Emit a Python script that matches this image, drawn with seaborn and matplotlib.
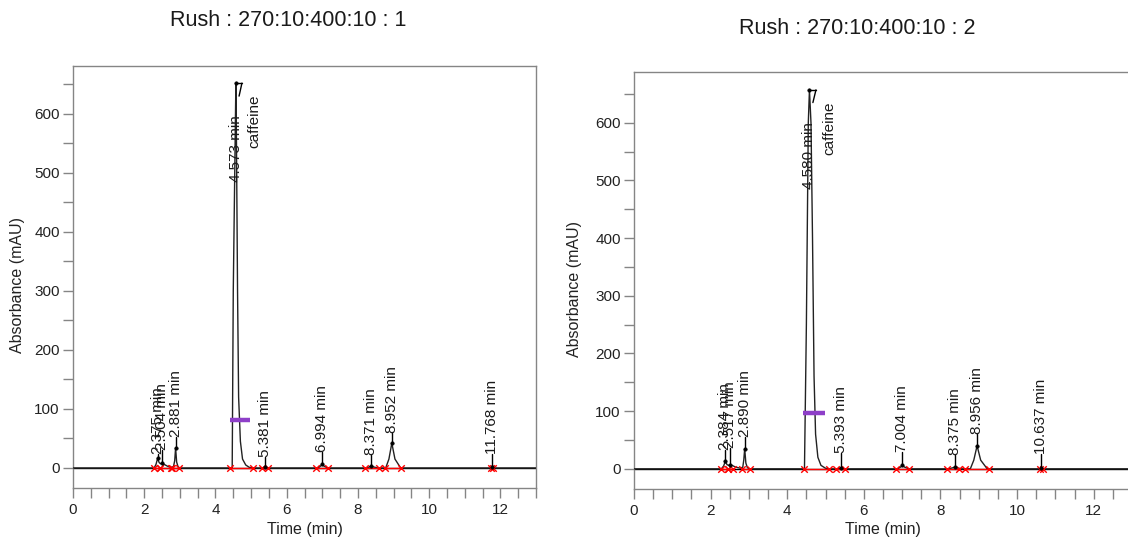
import numpy as np
import pandas as pd
import matplotlib
matplotlib.use("Agg")
import matplotlib.pyplot as plt
import seaborn as sns
from matplotlib.ticker import MultipleLocator, FixedLocator

# ---------------- data ----------------
titles = ["Rush : 270:10:400:10 : 1", "Rush : 270:10:400:10 : 2"]

# chromatogram traces (time in min, absorbance in mAU)
t1 = [0, 2.28, 2.33, 2.375, 2.42, 2.46, 2.504, 2.56, 2.65, 2.74,
      2.82, 2.855, 2.881, 2.91, 2.95, 3.0, 4.47, 4.50, 4.573, 4.59,
      4.62, 4.65, 4.70, 4.76, 4.85, 4.95, 5.05, 5.32, 5.381, 5.45,
      6.88, 6.95, 6.994, 7.05, 7.15, 8.25, 8.33, 8.371, 8.42, 8.55,
      8.78, 8.87, 8.952, 9.04, 9.2, 11.72, 11.768, 11.81, 13.2]
a1 = [0, 0, 6, 16, 9, 7, 8, 6, 3, 1,
      2, 12, 34, 10, 2, 0, 0, 300, 652, 550,
      300, 120, 45, 15, 5, 1, 0, 0, 2, 0,
      0, 3, 6, 3, 0, 0, 2, 3, 2, 0,
      0, 15, 42, 15, 0, 0, 1, 0, 0]

t2 = [0, 2.28, 2.34, 2.384, 2.43, 2.48, 2.517, 2.56, 2.65, 2.78,
      2.84, 2.865, 2.890, 2.92, 2.96, 3.02, 4.45, 4.50, 4.55, 4.580,
      4.62, 4.66, 4.70, 4.74, 4.80, 4.88, 5.0, 5.1, 5.33, 5.393,
      5.46, 6.88, 6.96, 7.004, 7.06, 7.18, 8.22, 8.33, 8.375, 8.42,
      8.55, 8.78, 8.87, 8.956, 9.05, 9.22, 10.60, 10.637, 10.67, 13.2]
a2 = [0, 0, 5, 13, 7, 6, 7, 6, 3, 1,
      3, 15, 35, 10, 2, 0, 0, 250, 600, 657,
      600, 400, 160, 60, 20, 6, 1, 0, 0, 2,
      0, 0, 3, 6, 3, 0, 0, 2, 3, 2,
      0, 0, 15, 40, 15, 0, 0, 1, 0, 0]

# peak annotations
rt1 = [2.375, 2.504, 2.881, 4.573, 5.381, 6.994, 8.371, 8.952, 11.768]
h1 = [16, 8, 34, 652, 2, 6, 3, 42, 1]
lab1 = ["2.375 min", "2.504 min", "2.881 min", "4.573 min", "5.381 min",
        "6.994 min", "8.371 min", "8.952 min", "11.768 min"]
base1 = [24, 30, 53, 485, 19, 27, 22, 60, 24]

rt2 = [2.384, 2.517, 2.890, 4.580, 5.393, 7.004, 8.375, 8.956, 10.637]
h2 = [13, 7, 35, 657, 2, 6, 3, 40, 1]
lab2 = ["2.384 min", "2.517 min", "2.890 min", "4.580 min", "5.393 min",
        "7.004 min", "8.375 min", "8.956 min", "10.637 min"]
base2 = [33, 36, 56, 485, 27, 30, 24, 60, 26]

compound = "caffeine"
caf_x = [5.10, 5.10]
caf_top = [632, 637]

# integration baselines (start / end of each peak)
seg_start1 = [2.28, 2.45, 2.79, 4.41, 5.31, 6.82, 8.19, 8.75, 11.74]
seg_end1 = [2.45, 2.74, 2.99, 5.06, 5.48, 7.15, 8.59, 9.22, 11.79]
seg_start2 = [2.28, 2.45, 2.83, 4.45, 5.28, 6.85, 8.18, 8.64, 10.60]
seg_end2 = [2.45, 2.59, 3.02, 5.09, 5.51, 7.19, 8.48, 9.26, 10.67]

# peak width bar (purple)
width_bar1 = (4.41, 4.97, 82)
width_bar2 = (4.41, 4.99, 97)

ylims = [(-34, 681), (-35, 688)]

# ---------------- drawing ----------------
sns.set_theme(style="white")
plt.rcParams["font.family"] = ["Liberation Sans", "DejaVu Sans"]

fig = plt.figure(figsize=(11.28, 5.44), dpi=100)
W, H = 1128, 544
ax1 = fig.add_axes([73 / W, (H - 488) / H, 463 / W, 422 / H])
ax2 = fig.add_axes([634 / W, (H - 489) / H, 498 / W, 417 / H])

GRAY = "#858585"
panels = [
    (ax1, t1, a1, rt1, h1, lab1, base1, seg_start1, seg_end1, width_bar1, 0),
    (ax2, t2, a2, rt2, h2, lab2, base2, seg_start2, seg_end2, width_bar2, 1),
]

for ax, t, a, rt, h, lab, base, s0, s1, wb, i in panels:
    df = pd.DataFrame({"t": t, "a": a})
    ax.axhline(0, color="black", lw=1.0, zorder=1)
    sns.lineplot(data=df, x="t", y="a", ax=ax, color="#222222", lw=1.0,
                 estimator=None, sort=False, zorder=3)

    # integration baselines and markers
    for xs, xe in zip(s0, s1):
        ax.plot([xs, xe], [0, 0], color="red", lw=1.0, zorder=4)
    mk = pd.DataFrame({"t": list(s0) + list(s1), "a": [0] * (len(s0) + len(s1))})
    sns.scatterplot(data=mk, x="t", y="a", ax=ax, marker="x", color="red",
                    s=22, linewidth=1.0, zorder=5)

    # apex dots
    ap = pd.DataFrame({"t": rt, "a": h})
    sns.scatterplot(data=ap, x="t", y="a", ax=ax, color="black", s=6,
                    edgecolor="black", linewidth=0.5, zorder=6)

    # labels
    for x, hh, txt, b in zip(rt, h, lab, base):
        if hh < 300:
            ax.plot([x, x], [hh, b], color="black", lw=1.0, zorder=6)
        ax.text(x, b, txt, rotation=90, ha="center", va="bottom",
                fontsize=11, color="#1a1a1a", zorder=7,
                rotation_mode="default")
    # compound name
    ci = 3
    ax.text(caf_x[i], caf_top[i], compound, rotation=90, ha="center", va="top",
            fontsize=11, color="#1a1a1a", zorder=7)
    # small leader at caffeine apex
    ax.plot([rt[ci], rt[ci] + 0.17], [h[ci], h[ci]], color="black", lw=1.0, zorder=7)
    ax.plot([rt[ci] + 0.17, rt[ci] + 0.09], [h[ci], h[ci] - 22], color="black", lw=1.0, zorder=7)

    # purple width bar
    ax.plot([wb[0], wb[1]], [wb[2], wb[2]], color="#8e3fc8", lw=3.2,
            solid_capstyle="butt", zorder=8)

    # axes styling
    ax.set_xlim(0, 13)
    ax.set_ylim(*ylims[i])
    ax.xaxis.set_major_locator(FixedLocator([0, 2, 4, 6, 8, 10, 12]))
    ax.xaxis.set_minor_locator(MultipleLocator(0.5))
    ax.yaxis.set_major_locator(FixedLocator([0, 100, 200, 300, 400, 500, 600]))
    ax.yaxis.set_minor_locator(MultipleLocator(50))
    ax.tick_params(axis="both", which="both", direction="out", length=7.5,
                   width=1.0, color=GRAY, labelsize=11, labelcolor="#222222")
    ax.tick_params(axis="x", which="major", pad=3)
    ax.tick_params(axis="y", which="major", pad=2)
    ax.tick_params(left=True, bottom=True, which="both")
    for sp in ax.spines.values():
        sp.set_color(GRAY)
        sp.set_linewidth(1.0)
        sp.set_visible(True)
    ax.set_xlabel("Time (min)", fontsize=11.5, color="#222222")
    ax.set_ylabel("Absorbance (mAU)", fontsize=11.5, color="#222222")
    ax.xaxis.label.set_va("center")
    ax.yaxis.label.set_va("center")
    ax.xaxis.set_label_coords(0.5, -0.099 if i == 0 else -0.098)
    ax.yaxis.set_label_coords(-0.119 if i == 0 else -0.12, 0.48)
    ax.set_facecolor("white")

fig.text(288 / W, 1 - 20 / H, titles[0], ha="center", va="center",
         fontsize=15.5, color="#1a1a1a")
fig.text(857 / W, 1 - 28 / H, titles[1], ha="center", va="center",
         fontsize=15.5, color="#1a1a1a")

fig.savefig("out.png", dpi=100, facecolor="white")
